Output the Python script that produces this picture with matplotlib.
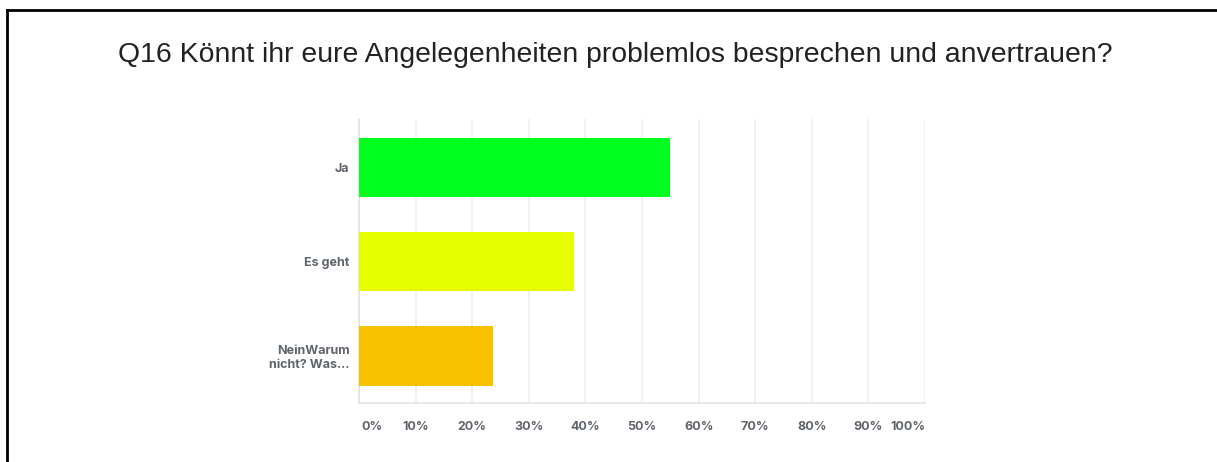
import matplotlib
matplotlib.use("Agg")
import matplotlib.pyplot as plt
from matplotlib.lines import Line2D

title = "Q16 Könnt ihr eure Angelegenheiten problemlos besprechen und anvertrauen?"
categories = ["Ja", "Es geht", "NeinWarum\nnicht? Was..."]
values = [55, 38, 23.7]
colors = ["#00ff1e", "#e5ff00", "#f8c100"]
xticks = [0, 10, 20, 30, 40, 50, 60, 70, 80, 90, 100]
xticklabels = ["0%", "10%", "20%", "30%", "40%", "50%", "60%", "70%", "80%", "90%", "100%"]

W, H = 1217, 462
fig = plt.figure(figsize=(W / 100, H / 100), dpi=100)
fig.patch.set_facecolor("white")

left, right, top, bottom = 359, 925, 119, 403
ax = fig.add_axes([left / W, 1 - bottom / H, (right - left) / W, (bottom - top) / H])

ypos = list(range(len(categories)))
ax.barh(ypos, values, height=0.63, color=colors, zorder=3)
ax.set_xlim(0, 100)
ax.set_ylim(2.5, -0.516)

ax.set_xticks(xticks)
ax.set_xticklabels([])
ax.tick_params(axis="x", length=0)
ax.grid(axis="x", color="#efefef", linewidth=1.2, zorder=0)
ax.set_axisbelow(True)

tick_color = "#5f646b"
tfont = dict(family="Inter", weight="bold", size=9, color=tick_color)
for t, lab in zip(xticks, xticklabels):
    ha = "center"
    if t == 0:
        ha = "left"
    elif t == 100:
        ha = "right"
    ax.text(t + (0.4 if t == 0 else 0), -0.085, lab, transform=ax.get_xaxis_transform(),
            ha=ha, va="center", **tfont)

ax.set_yticks(ypos)
ax.set_yticklabels(categories, fontfamily="Inter", fontweight="bold", fontsize=9,
                   color=tick_color, linespacing=1.2)
ax.tick_params(axis="y", length=0, pad=7)

for s in ["top", "right"]:
    ax.spines[s].set_visible(False)
ax.spines["left"].set_color("#e3e3e3")
ax.spines["bottom"].set_color("#e3e3e3")
ax.spines["left"].set_linewidth(1.2)
ax.spines["bottom"].set_linewidth(1.2)

fig.text(615 / W, 1 - 55 / H, title, ha="center", va="center",
         family="Liberation Sans", fontsize=20.4, color="#222222")

# frame lines (screenshot border)
fig.add_artist(Line2D([7 / W, 7 / W], [0, 1 - 10 / H], transform=fig.transFigure,
                      color="black", linewidth=2))
fig.add_artist(Line2D([7 / W, 1], [1 - 10 / H, 1 - 10 / H], transform=fig.transFigure,
                      color="black", linewidth=2))

fig.savefig("out.png", dpi=100)
